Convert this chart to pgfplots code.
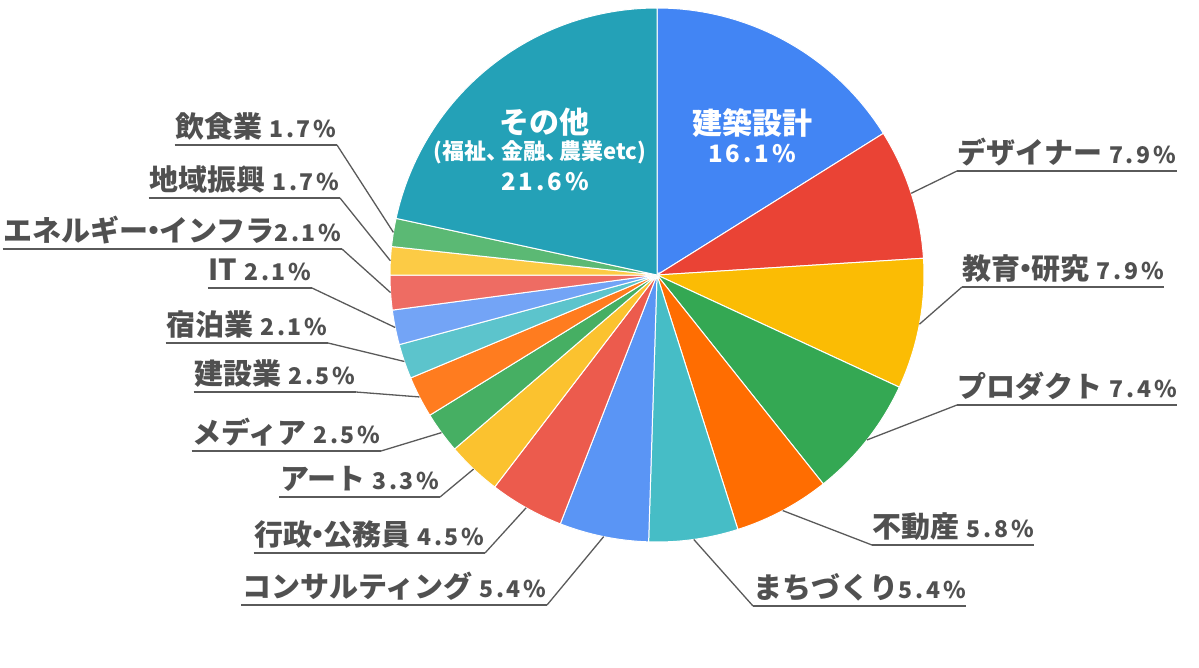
\documentclass[border=0pt]{standalone}
\usepackage{pgfplots}
\pgfplotsset{compat=1.18}
\usepackage{pgfplotstable}
\usepackage{fontspec}
\newfontfamily\jp{Noto Sans CJK JP}
\newfontfamily\jpnum{Noto Sans CJK JP}[LetterSpace=12]
\definecolor{labgray}{HTML}{505050}
\definecolor{linegray}{HTML}{5A5A5A}
\definecolor{slice0}{HTML}{4285F4}
\definecolor{slice1}{HTML}{EA4335}
\definecolor{slice2}{HTML}{FBBC04}
\definecolor{slice3}{HTML}{34A853}
\definecolor{slice4}{HTML}{FF6D01}
\definecolor{slice5}{HTML}{46BDC6}
\definecolor{slice6}{HTML}{5A95F5}
\definecolor{slice7}{HTML}{EC5B4D}
\definecolor{slice8}{HTML}{FBC22F}
\definecolor{slice9}{HTML}{46AF63}
\definecolor{slice10}{HTML}{FF7C1F}
\definecolor{slice11}{HTML}{5CC4CC}
\definecolor{slice12}{HTML}{73A4F6}
\definecolor{slice13}{HTML}{EE6C63}
\definecolor{slice14}{HTML}{FCCB45}
\definecolor{slice15}{HTML}{5BB974}
\definecolor{slice16}{HTML}{24A1B7}
\protected\def\dt{\kern-0.31em・\kern-0.31em}
\protected\def\cm{、\kern-0.35em}
\newcommand\lab[3]{{\jp\bfseries\fontsize{29bp}{33bp}\selectfont #1}\hspace{#2bp}{\jpnum\bfseries\fontsize{23bp}{27bp}\selectfont #3\%}}
% side: 0 = inside, 1 = right, 2 = left ; lx, ly = inner end of the underline (pixels); gap = space before the number (bp)
\pgfplotstableread[col sep=comma]{
name,value,side,lx,ly,gap
建築設計,16.1,0,0,0,0
デザイナー,7.9,1,957,171,7
教育\dt 研究,7.9,1,962,287,7
プロダクト,7.4,1,957,405,7
不動産,5.8,1,872,545,7
まちづくり,5.4,1,753,606,0
コンサルティング,5.4,2,547,605,7
行政\dt 公務員,4.5,2,485,553,7
アート,3.3,2,440,497,7
メディア,2.5,2,381,451,7
建設業,2.5,2,356,392,7
宿泊業,2.1,2,328,343,7
IT,2.1,2,312,288,7
エネルギー\dt インフラ,2.1,2,342,249,0
地域振興,1.7,2,340,198,7
飲食業,1.7,2,337,145,7
その他,21.6,0,0,0,0
}\piedata
\begin{document}
\begin{tikzpicture}
\begin{axis}[width=1199bp, height=667bp, scale only axis,
  xmin=0, xmax=1199, ymin=0, ymax=667, y dir=reverse,
  hide axis, clip=false]
\def\cum{0}
\pgfplotsforeachungrouped \i in {0,...,16}{%
  \pgfplotstablegetelem{\i}{value}\of\piedata \let\v\pgfplotsretval
  \pgfplotstablegetelem{\i}{name}\of\piedata \let\nm\pgfplotsretval
  \pgfplotstablegetelem{\i}{side}\of\piedata \let\sd\pgfplotsretval
  \pgfplotstablegetelem{\i}{lx}\of\piedata \let\lx\pgfplotsretval
  \pgfplotstablegetelem{\i}{ly}\of\piedata \let\ly\pgfplotsretval
  \pgfplotstablegetelem{\i}{gap}\of\piedata \let\gp\pgfplotsretval
  \pgfmathsetmacro\aone{90-3.6*\cum}%
  \pgfmathsetmacro\atwo{90-3.6*(\cum+\v)}%
  \pgfmathsetmacro\amid{0.5*(\aone+\atwo)}%
  \edef\cmd{\noexpand\fill[slice\i, draw=white, line width=1bp] (axis cs:657,275) -- ++(\aone:267bp) arc[start angle=\aone, end angle=\atwo, radius=267bp] -- cycle;}%
  \cmd
  \ifnum\sd=1
    \edef\cmd{\noexpand\draw[linegray, line width=1.3bp] (axis cs:657,275) ++(\amid:267bp) -- (axis cs:\lx,\ly) node[anchor=base west, inner xsep=0pt, yshift=8bp, text=labgray, name=L\i] {\noexpand\lab{\nm}{\gp}{\v}};}%
    \cmd
  \fi
  \ifnum\sd=2
    \edef\cmd{\noexpand\draw[linegray, line width=1.3bp] (axis cs:657,275) ++(\amid:267bp) -- (axis cs:\lx,\ly) node[anchor=base east, inner xsep=0pt, yshift=8bp, text=labgray, name=L\i] {\noexpand\lab{\nm}{\gp}{\v}};}%
    \cmd
  \fi
  \ifnum\sd>0
    \edef\cmd{\noexpand\draw[linegray, line width=2bp] ([yshift=-8bp]L\i.base west) -- ([yshift=-8bp]L\i.base east);}%
    \cmd
  \fi
  \pgfmathsetmacro\cum{\cum+\v}%
}
\node[text=white, font=\jp\bfseries\fontsize{30bp}{34bp}\selectfont] at (axis cs:752,123) {建築設計};
\node[text=white, font=\jpnum\bfseries\fontsize{24bp}{28bp}\selectfont] at (axis cs:752,154) {16.1\%};
\node[text=white, font=\jp\bfseries\fontsize{30bp}{34bp}\selectfont] at (axis cs:544,122) {その他};
\node[text=white, font=\jp\bfseries\fontsize{22bp}{25bp}\selectfont] at (axis cs:540,152) {(福祉\cm 金融\cm 農業etc)};
\node[text=white, font=\jpnum\bfseries\fontsize{24bp}{28bp}\selectfont] at (axis cs:545,182) {21.6\%};
\end{axis}
\pgfresetboundingbox
\path[use as bounding box] (current axis.south west) rectangle (current axis.north east);
\end{tikzpicture}
\end{document}
